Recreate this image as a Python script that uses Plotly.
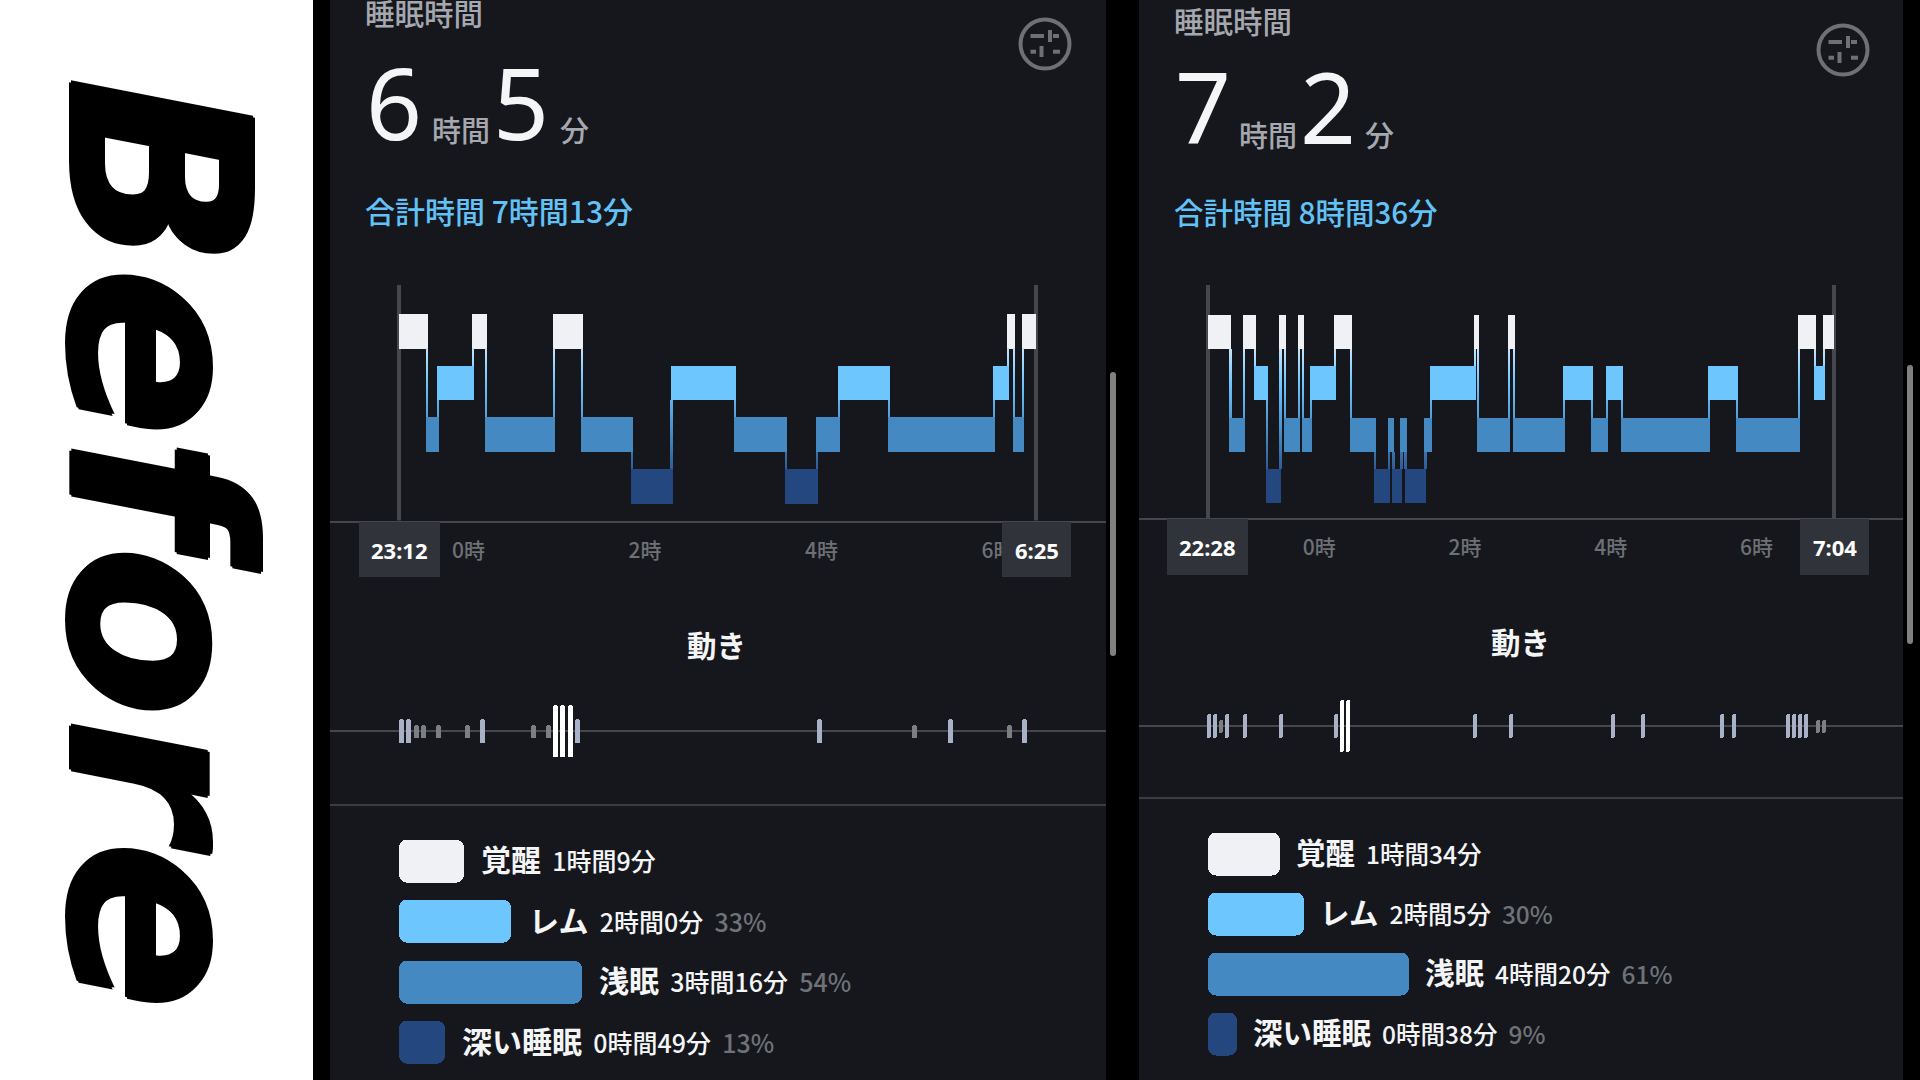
import plotly.graph_objects as go

# ---------- data (minutes after bedtime) ----------
left_stages = ["W","L","R","W","L","W","L","D","R","L","D","L","R","L","R","W","L","W"]
left_bounds = [0,19,26,50,59,105,124,158,185,228,263,284,299,333,404,414,418,424,433]
right_stages = ["W","L","W","R","D","W","L","W","L","R","W","L","D","L","D","L","D","L","R","W","L","W","L","R","L","R","L","R","L","W","R","W"]
right_bounds = [0,18.8,30.2,39,48.7,60,63.8,75,78.3,85,105,118.3,138,149.5,153,159.6,163,179.4,184,220,222.4,248,252,293.7,316.8,328.6,341.5,412.8,435.9,487.2,500.4,507.3,516]

left_move_min = [1.6,6.5,11.5,16.5,26.5,46.5,56.4,91.4,101.1,106,111.1,116,121.2,285.4,350,374.6,414.8,424.7]
left_move_amp = [12,12,6.5,6.5,6.5,6.5,12,6.5,6.5,26,26,26,12,12,6.5,12,6.5,12]
right_move_min = [1.4,6.4,11.3,16.3,31,60.7,105.7,110.6,115.5,219.9,249.6,334,358.7,423.3,433.1,478,483,488,492.9,502.8,507.7]
right_move_amp = [12,12,6.5,12,12,12,12,26,26,12,12,12,12,12,12,12,12,12,12,6.5,6.5]

left_ticks = [47,167,287,407]
right_ticks = [92,212,332,452]
tick_text = ["0時","2時","4時","6時"]

stage_names = ["覚醒","レム","浅眠","深い睡眠"]
left_minutes = [69,120,196,49]
right_minutes = [94,125,260,38]
left_dur = ["1時間9分","2時間0分","3時間16分","0時間49分"]
right_dur = ["1時間34分","2時間5分","4時間20分","0時間38分"]
left_pct = ["","33%","54%","13%"]
right_pct = ["","30%","61%","9%"]

# ---------- style ----------
W, H = 1920, 1080
FONT = "Noto Sans, Noto Sans CJK JP, sans-serif"
CJK = "Noto Sans CJK JP, Noto Sans, sans-serif"
PANEL = "#15171c"
LINE = "#45474c"
GREY = "#a6a8b0"
DIM = "#6d7075"
BOX = "#30333a"
STAGE_LEVEL = {"W":3,"R":2,"L":1,"D":0}
PALETTE = ["#24477f","#4589c3","#6ec6ff","#f0f1f4"]
COLOR = {"W":PALETTE[3],"R":PALETTE[2],"L":PALETTE[1],"D":PALETTE[0]}
LEG_COLORS = [PALETTE[3],PALETTE[2],PALETTE[1],PALETTE[0]]
MOVE_COLOR = {26:"#ffffff",12:"#a9b1c6",6.5:"#7b7e83"}
BAND = 0.333

def px(x): return x/W
def py(y): return 1-y/H
def hex2(c): return [int(c[i:i+2],16) for i in (1,3,5)]
def level_color(l):
    l = max(0,min(3,l)); i = min(2,int(l)); t = l-i
    a,b = hex2(PALETTE[i]),hex2(PALETTE[i+1])
    return "rgb(%d,%d,%d)"%tuple(round(a[k]+(b[k]-a[k])*t) for k in range(3))

fig = go.Figure()
layout_axes = {}
shapes = []
ann = []

def text(x,y,s,size,color,anchor="left",family=FONT,weight=None,**kw):
    f = dict(size=size,color=color,family=family)
    if weight: f["weight"] = weight
    ann.append(dict(x=px(x),y=py(y),xref="paper",yref="paper",text=s,showarrow=False,
        xanchor=anchor,yanchor="middle",font=f,borderpad=0,**kw))

def rect(x0,y0,x1,y1,color,layer="below"):
    shapes.append(dict(type="rect",xref="paper",yref="paper",x0=px(x0),x1=px(x1),y0=py(y0),y1=py(y1),
        fillcolor=color,line=dict(width=0),layer=layer))

def panel_chart(idx, stages, bounds, ticks, moves, amps, x0, scale, panel, line_y, y_mid, spacing,
                move_y, stem_px, leg_ys, leg_scale, leg_gap, minutes, durs, pcts, name_size, dur_size):
    p0,p1 = panel
    ax = lambda n: "" if n==1 else str(n)
    n1,n2,n3 = idx,idx+1,idx+2
    xr = [(p0-x0)/scale,(p1-x0)/scale]
    top = 285
    yr = [(y_mid-line_y)/spacing,(y_mid-top)/spacing]
    xa = dict(domain=[px(p0),px(p1)],range=xr,tickmode="array",tickvals=ticks,ticktext=tick_text,
              showgrid=False,zeroline=False,showline=True,linecolor=LINE,linewidth=2,ticks="outside",
              ticklen=10,tickcolor="rgba(0,0,0,0)",tickfont=dict(size=21,color=DIM,family=CJK,weight=500),
              anchor="y"+ax(n1))
    ya = dict(domain=[py(line_y),py(top)],range=yr,visible=False,anchor="x"+ax(n1))
    layout_axes["xaxis"+ax(n1)] = xa
    layout_axes["yaxis"+ax(n1)] = ya
    xk,yk = "x"+ax(n1),"y"+ax(n1)
    # guide lines
    total = bounds[-1]
    fig.add_trace(go.Bar(x=[0,total],base=[yr[0],yr[0]],y=[yr[1]-yr[0]]*2,width=[4/scale]*2,
        marker=dict(color=LINE,line=dict(width=0)),xaxis=xk,yaxis=yk,showlegend=False))
    # stage bands
    ext = 1/scale
    for s in "WRLD":
        xs,ws = [],[]
        for i,st in enumerate(stages):
            if st!=s: continue
            a = bounds[i]-(ext if i>0 else 0)
            b = bounds[i+1]+(ext if i<len(stages)-1 else 0)
            xs.append((a+b)/2); ws.append(b-a)
        if xs:
            lv = STAGE_LEVEL[s]
            fig.add_trace(go.Bar(x=xs,width=ws,base=[lv-BAND]*len(xs),y=[2*BAND]*len(xs),
                marker=dict(color=COLOR[s],line=dict(width=0)),xaxis=xk,yaxis=yk,showlegend=False))
    # connectors
    cx,cb,ch,cc = [],[],[],[]
    for i in range(1,len(stages)):
        hi = max(STAGE_LEVEL[stages[i-1]],STAGE_LEVEL[stages[i]])-BAND
        lo = min(STAGE_LEVEL[stages[i-1]],STAGE_LEVEL[stages[i]])+BAND
        n = max(3,int(round((hi-lo)/0.05)))
        st = (hi-lo)/n
        for k in range(n):
            cx.append(bounds[i]); cb.append(lo+k*st); ch.append(st*1.1)
            cc.append(level_color(lo+(k+.5)*st))
    fig.add_trace(go.Bar(x=cx,base=cb,y=ch,width=[2.2/scale]*len(cx),
        marker=dict(color=cc,line=dict(width=0)),xaxis=xk,yaxis=yk,showlegend=False))

    # movement strip (explicit base rounds both ends)
    layout_axes["xaxis"+ax(n2)] = dict(domain=[px(p0),px(p1)],range=xr,visible=False,anchor="y"+ax(n2))
    layout_axes["yaxis"+ax(n2)] = dict(domain=[py(move_y+40),py(move_y-40)],range=[-40,40],anchor="x"+ax(n2),
        showgrid=False,showticklabels=False,ticks="",showline=False,zeroline=True,zerolinecolor=LINE,zerolinewidth=2)
    fig.add_trace(go.Bar(x=moves,base=[-a for a in amps],y=[2*a for a in amps],width=[stem_px/scale]*len(moves),
        marker=dict(color=[MOVE_COLOR[a] for a in amps],line=dict(width=0),cornerradius=stem_px/2),
        xaxis="x"+ax(n2),yaxis="y"+ax(n2),showlegend=False))

    # duration bars (explicit base rounds both ends)
    bar0 = x0
    spacing_l = leg_ys[1]-leg_ys[0]
    layout_axes["xaxis"+ax(n3)] = dict(domain=[px(p0),px(p1)],range=[(p0-bar0)/leg_scale,(p1-bar0)/leg_scale],
        visible=False,anchor="y"+ax(n3))
    ytop = leg_ys[0]-spacing_l/2; ybot = leg_ys[3]+spacing_l/2
    layout_axes["yaxis"+ax(n3)] = dict(domain=[py(ybot),py(ytop)],range=[3.5,-0.5],visible=False,anchor="x"+ax(n3))
    fig.add_trace(go.Bar(x=minutes,base=[0,0,0,0],y=[0,1,2,3],orientation="h",width=43/spacing_l,
        marker=dict(color=LEG_COLORS,line=dict(width=0),cornerradius=8),
        xaxis="x"+ax(n3),yaxis="y"+ax(n3),showlegend=False))
    for i in range(4):
        s = f"<b style='font-size:{name_size}px'>{stage_names[i]}</b>&nbsp;&nbsp;{durs[i]}"
        if pcts[i]:
            s += f"&nbsp;&nbsp;<span style='color:#6f7277'>{pcts[i]}</span>"
        text(bar0+minutes[i]*leg_scale+leg_gap,leg_ys[i]-3,s,dur_size,"#f4f5f7",family=CJK,weight=500)

def icon(cx,cy):
    shapes.append(dict(type="circle",xref="paper",yref="paper",x0=px(cx-24.5),x1=px(cx+24.5),y0=py(cy-24.5),y1=py(cy+24.5),
        line=dict(color="#6e7075",width=4),layer="above"))
    for (a,b,c,d) in [(-14.5,-8,-1,-8),(5,-14,5,-2),(8,7.7,15,7.7),(-3.5,2,-3.5,13),(-14.5,7.7,-9,7.7),(8,-8,14,-8)]:
        shapes.append(dict(type="line",xref="paper",yref="paper",x0=px(cx+a),x1=px(cx+c),y0=py(cy+b),y1=py(cy+d),
            line=dict(color="#6e7075",width=4),layer="above"))

# backgrounds
rect(0,0,313,H,"#ffffff")
rect(330,0,1106,H,PANEL)
rect(1139,0,1903,H,PANEL)
for x0,x1,y0,y1 in [(1110,1116,372,656),(1907,1913,365,644)]:
    shapes.append(dict(type="path",xref="paper",yref="paper",layer="below",fillcolor="#808080",line=dict(width=0),
        path=f"M{px(x0)},{py(y0+3)} Q{px(x0)},{py(y0)} {px((x0+x1)/2)},{py(y0)} Q{px(x1)},{py(y0)} {px(x1)},{py(y0+3)} "
             f"L{px(x1)},{py(y1-3)} Q{px(x1)},{py(y1)} {px((x0+x1)/2)},{py(y1)} Q{px(x0)},{py(y1)} {px(x0)},{py(y1-3)} Z"))

panel_chart(1,left_stages,left_bounds,left_ticks,left_move_min,left_move_amp,399.4,1.471,(330,1106),520.5,486.3,51.65,
            731.3,5,[861,921.7,982,1042.5],0.93,16.5,left_minutes,left_dur,left_pct,30,25)
panel_chart(4,right_stages,right_bounds,right_ticks,right_move_min,right_move_amp,1207.6,1.2145,(1139,1903),518,486,51.3,
            726,4,[853.5,913.5,973.5,1033.5],0.775,15,right_minutes,right_dur,right_pct,29.5,24.5)

# time boxes
for x0,x1,y0,y1,s in [(359,440,522,577,"23:12"),(1002,1071,522,577,"6:25"),(1167,1248,519,575,"22:28"),(1800,1869,519,575,"7:04")]:
    rect(x0,y0,x1,y1,BOX,"above")
    text((x0+x1)/2,(y0+y1)/2,f"<b>{s}</b>",22,"#ffffff",anchor="center")

# separators
for x0,x1,y in [(330,1106,805),(1139,1903,798)]:
    shapes.append(dict(type="line",xref="paper",yref="paper",x0=px(x0),x1=px(x1),y0=py(y),y1=py(y),line=dict(color="#3a3c41",width=2),layer="below"))

# headers
for x,dy,title_y,h,m,hx,mx,ux,total,tsize,ic in [(365,0,12,"6","5",432,493,560,"合計時間 7時間13分",30,(1045,44)),
                                    (1174,4,19.8,"7","2",1239,1300,1365,"合計時間 8時間36分",29.5,(1843,50))]:
    text(x-1,title_y,"睡眠時間",29.5,GREY,family=CJK,weight=500)
    text(x,102+dy,h,98,"#f4f5f7")
    text(hx-1,129.5+dy,"時間",29,GREY,family=CJK,weight=500)
    text(mx-1,102+dy,m,98,"#f4f5f7")
    text(ux-1,129.5+dy,"分",29,GREY,family=CJK,weight=500)
    text(x-1,209.5+dy/2,total,tsize,"#62c2f7",family=CJK,weight=500)
    icon(*ic)

text(716,644,"<b>動き</b>",29.5,"#f4f5f7",anchor="center",family=CJK)
text(1520,641,"<b>動き</b>",29.5,"#f4f5f7",anchor="center",family=CJK)

# big rotated word
ann.append(dict(x=px(158),y=py(543),xref="paper",yref="paper",text="<b><i>Before</i></b>",showarrow=False,textangle=90,
    xanchor="center",yanchor="middle",font=dict(size=250,color="#000000",family="DejaVu Sans",
    shadow="2px 0 0 #000,-2px 0 0 #000,0 2px 0 #000,0 -2px 0 #000")))

fig.update_layout(width=W,height=H,margin=dict(l=0,r=0,t=0,b=0),paper_bgcolor="#000000",plot_bgcolor="rgba(0,0,0,0)",
    barmode="overlay",bargap=0,showlegend=False,shapes=shapes,annotations=ann,font=dict(family=FONT),**layout_axes)

fig.write_html("out.html",config=dict(displayModeBar=False),
    post_script="document.body.style.margin='0';document.body.style.overflow='hidden';")
